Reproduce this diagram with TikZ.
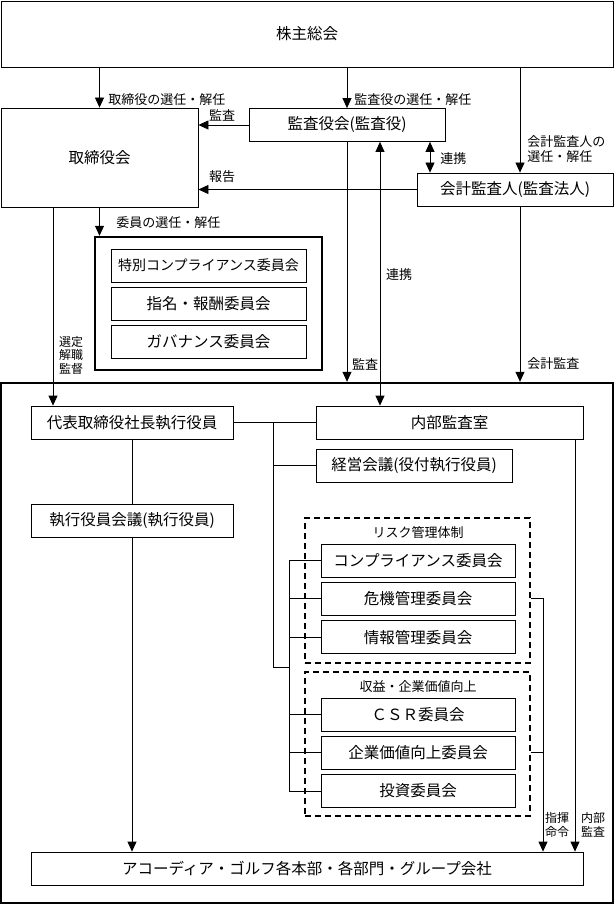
\documentclass[tikz,border=0pt]{standalone}
\usepackage{fontspec}
\setmainfont{Noto Sans CJK JP}
\usetikzlibrary{arrows.meta, positioning}

\begin{document}
\begin{tikzpicture}[x=1pt, y=-1pt,
node distance = 4.5pt and 6pt,
line width = 0.8pt,
   box/.style = {draw, inner sep=0pt, fill=white,
                 minimum width=196pt, minimum height=33pt, align=center,
                 font=\fontsize{15.5}{18}\selectfont},
 frame/.style = {draw, line width=2.4pt, inner sep=0pt},
  dbox/.style = {draw, line width=2.2pt, dash pattern=on 6pt off 4pt, inner sep=0pt},
   lbl/.style = {font=\fontsize{13}{15}\selectfont, inner sep=0pt, align=left},
  slbl/.style = {font=\fontsize{12}{13.5}\selectfont, inner sep=0pt, align=left},
            > = {Triangle[width=9pt, length=10pt]},
         ]
\useasboundingbox (0,0) rectangle (615,904);

\node (n1)  [box, minimum width=612pt, minimum height=66pt] at (307,34) {株主総会};
\node (n2)  [box, minimum width=197pt, minimum height=99pt] at (99.5,157.5) {取締役会};
\node (n3)  [box] at (347,125)   {監査役会(監査役)};
\node (n4)  [box] at (515,189.5) {会計監査人(監査法人)};
% committees of the board
\node (n5)  [frame, minimum width=227pt, minimum height=133pt] at (208.5,303.5) {};
\node (n6)  [box, minimum width=195pt, font=\fontsize{14}{17}\selectfont] at (208.5,265.5)
            {特別コンプライアンス委員会};
\node (n7)  [box, minimum width=195pt, below=of n6] {指名・報酬委員会};
\node (n8)  [box, minimum width=195pt, below=of n7] {ガバナンス委員会};
% execution side
\node (n9)  [frame, minimum width=612pt, minimum height=520pt] at (307,643) {};
\node (n10) [box, minimum width=202pt] at (132,422.5)   {代表取締役社長執行役員};
\node (n11) [box, minimum width=267pt] at (449.5,422.5) {内部監査室};
\node (n12) [box] at (414,465.5)   {経営会議(役付執行役員)};
\node (n13) [box, minimum width=202pt] at (132,520.5)   {執行役員会議(執行役員)};
\node (n14) [dbox, minimum width=225pt, minimum height=145pt] at (417.5,590.5) {};
\node (n15) [lbl] at (418,533) {リスク管理体制};
\node (n16) [box, minimum width=194pt] at (418,560.5) {コンプライアンス委員会};
\node (n17) [box, minimum width=194pt, below=of n16] {危機管理委員会};
\node (n18) [box, minimum width=194pt, below=of n17] {情報管理委員会};
\node (n19) [dbox, minimum width=225pt, minimum height=144pt] at (417.5,744) {};
\node (n20) [lbl] at (418,687) {収益・企業価値向上};
\node (n21) [box, minimum width=194pt] at (418,714.5) {ＣＳＲ委員会};
\node (n22) [box, minimum width=194pt, below=of n21] {企業価値向上委員会};
\node (n23) [box, minimum width=194pt, below=of n22] {投資委員会};
\node (n24) [box, minimum width=552pt] at (307,868.5)
            {アコーディア・ゴルフ各本部・各部門・グループ会社};

\coordinate (c1) at (53,0);
\coordinate (c2) at (520,0);
\coordinate (c3) at (430,0);
\coordinate (c4) at (380,0);
\coordinate (c5) at (273,0);
\coordinate (c6) at (289,667);
\coordinate (c7) at (543,0);
\coordinate (c8) at (575,0);

%
\draw[->] (n1.south -| n2.north) -- (n2.north);
\draw[->] (n1.south -| n3.north) -- (n3.north);
\draw[->] (n1.south -| c2) -- (n4.north -| c2);
\draw[->] (n3.west) -- (n3.west -| n2.east);
\draw[->] (n4.west) -- (n4.west -| n2.east);
\draw[<->] (n3.south -| c3) -- (n4.north -| c3);
\draw[->] (n2.south) -- (n5.north -| n2.south);
\draw[->] (n2.south -| c1) -- (n10.north -| c1);
\draw[->] (n3.south) -- (n9.north -| n3.south);
\draw[<->] (n3.south -| c4) -- (n11.north -| c4);
\draw[->] (n4.south -| c2) -- (n9.north -| c2);
\draw (n10.east) -- (n11.west);
\draw (n10.east -| c5) |- (c6);
\draw (c5 |- n12.west) -- (n12.west);
\draw (c6 |- n16.west) -- (c6 |- n23.west);
\foreach \n in {n16,n17,n18,n21,n22,n23}
    \draw (c6 |- \n.west) -- (\n.west);
\draw (n10) -- (n13);
\draw[->] (n13) -- (n24.north -| n13.south);
\draw[->] (n17.east -| n14.east) -| (n24.north -| c7);
\draw (n22.east -| n19.east) -- (n22.east -| c7);
\draw[->] (n11.south -| c8) -- (n24.north -| c8);

% labels
\node (l1)  [lbl, anchor=west] at (108,100) {取締役の選任・解任};
\node (l2)  [lbl, anchor=west] at (354,100) {監査役の選任・解任};
\node (l3)  [lbl, anchor=west] at (527,149) {会計監査人の\\選任・解任};
\node (l4)  [lbl] at (222,115) {監査};
\node (l5)  [lbl] at (222,177) {報告};
\node (l6)  [lbl, anchor=west] at (440,159) {連携};
\node (l7)  [lbl, anchor=west] at (116,223) {委員の選任・解任};
\node (l8)  [lbl] at (399,275) {連携};
\node (l9)  [lbl] at (365,364) {監査};
\node (l10) [lbl, anchor=west] at (527,364) {会計監査};
\node (l11) [slbl] at (71,355) {選定\\解職\\監督};
\node (l12) [slbl] at (557,825) {指揮\\命令};
\node (l13) [slbl] at (593,825) {内部\\監査};
\end{tikzpicture}
\end{document}
